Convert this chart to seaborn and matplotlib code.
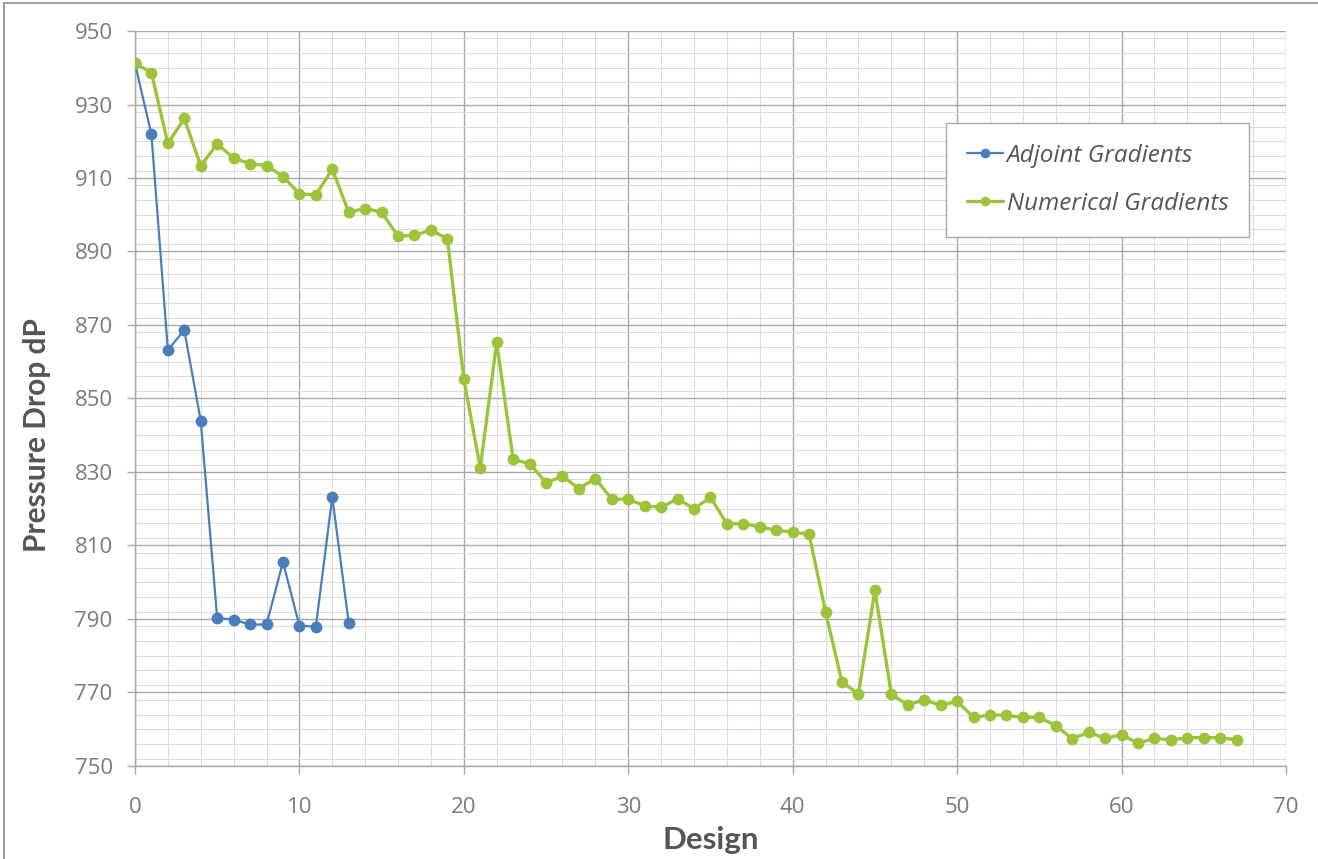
import numpy as np
import pandas as pd
import matplotlib
matplotlib.use("Agg")
import matplotlib.pyplot as plt
from matplotlib.ticker import MultipleLocator
from matplotlib.lines import Line2D
import seaborn as sns

# Pressure drop per design iteration
adjoint_dp = [941.2, 921.9, 863.2, 868.6, 843.9, 790.3, 789.8, 788.5, 788.5,
              805.5, 788.2, 787.9, 823.2, 788.9]
numerical_dp = [941.2, 938.7, 919.4, 926.2, 913.3, 919.3, 915.4, 913.9, 913.4,
                910.4, 905.7, 905.4, 912.4, 900.7, 901.7, 900.7, 894.2, 894.4,
                895.8, 893.5, 855.2, 831.1, 865.3, 833.4, 832.3, 827.1, 828.8,
                825.5, 828.2, 822.6, 822.6, 820.8, 820.4, 822.7, 820.0, 823.1,
                815.9, 815.9, 815.1, 814.1, 813.7, 813.0, 791.9, 772.8, 769.6,
                797.8, 769.5, 766.6, 768.0, 766.5, 767.6, 763.2, 763.9, 763.8,
                763.2, 763.2, 761.0, 757.4, 759.2, 757.5, 758.5, 756.2, 757.5,
                757.1, 757.7, 757.7, 757.7, 757.1]
series_names = ["Adjoint Gradients", "Numerical Gradients"]
series_colors = ["#4a7ebb", "#9cc43a"]
x_ticks = [0, 10, 20, 30, 40, 50, 60, 70]
y_ticks = [750, 770, 790, 810, 830, 850, 870, 890, 910, 930, 950]

df = pd.concat([
    pd.DataFrame({"Design": np.arange(len(adjoint_dp)), "dP": adjoint_dp,
                  "Method": series_names[0]}),
    pd.DataFrame({"Design": np.arange(len(numerical_dp)), "dP": numerical_dp,
                  "Method": series_names[1]}),
], ignore_index=True)

sns.set_style("white")
plt.rcParams["font.family"] = ["Open Sans", "DejaVu Sans"]

fig = plt.figure(figsize=(13.18, 8.59), dpi=100)
ax = fig.add_axes([0.1024, 0.1083, 0.8733, 0.8556])

line_widths = {series_names[0]: 1.6, series_names[1]: 2.4}
for name, color in zip(series_names, series_colors):
    sub = df[df["Method"] == name]
    sns.lineplot(data=sub, x="Design", y="dP", ax=ax, color=color,
                 linewidth=line_widths[name], marker="o", markersize=8.5,
                 markeredgewidth=0, sort=False, legend=False, zorder=3)

ax.set_xlim(0, 70)
ax.set_ylim(750, 950)
ax.set_xticks(x_ticks)
ax.set_yticks(y_ticks)
ax.xaxis.set_minor_locator(MultipleLocator(2))
ax.yaxis.set_minor_locator(MultipleLocator(4))

ax.grid(which="major", color="#a8a8a8", linewidth=1.0)
ax.grid(which="minor", color="#dcdcdc", linewidth=0.8)
ax.set_axisbelow(True)

for side in ["top", "right"]:
    ax.spines[side].set_visible(False)
for side in ["left", "bottom"]:
    ax.spines[side].set_color("#a8a8a8")
    ax.spines[side].set_linewidth(1.0)

ax.tick_params(axis="both", which="major", direction="out", length=6,
               width=1.0, color="#a8a8a8", labelsize=16, labelcolor="#7a7a7a",
               left=True, bottom=True)
ax.tick_params(axis="x", which="major", pad=16)
ax.tick_params(axis="y", which="major", pad=10)
ax.tick_params(axis="both", which="minor", length=0)

ax.set_xlabel("Design", family=["Lato", "DejaVu Sans"], fontweight="bold",
              fontsize=22.5, color="#555555", labelpad=6)
ax.set_ylabel("Pressure Drop dP", family=["Lato", "DejaVu Sans"],
              fontweight="bold", fontsize=21.5, color="#555555")
ax.yaxis.set_label_coords(-0.073, 0.45)

handles = [Line2D([0], [0], color=c, linewidth=lw, marker="o", markersize=7,
                  markeredgewidth=0)
           for c, lw in zip(series_colors, [1.6, 2.4])]
leg = ax.legend(handles, series_names, loc="upper left",
                bbox_to_anchor=(0.7046, 0.8748), borderaxespad=0,
                frameon=True, fancybox=False, edgecolor="#a8a8a8",
                framealpha=1.0, handlelength=1.5, handletextpad=0.15,
                borderpad=0.85, labelspacing=1.0,
                prop={"family": ["Open Sans", "DejaVu Sans"], "style": "italic",
                      "size": 17.5})
leg.get_frame().set_linewidth(1.0)
for t in leg.get_texts():
    t.set_color("#555555")

# thin frame along the figure's outer left and top edges
fig.add_artist(Line2D([0.003, 0.003], [0, 0.997], transform=fig.transFigure,
                      color="#8c8c8c", linewidth=1.2))
fig.add_artist(Line2D([0.003, 1.0], [0.997, 0.997], transform=fig.transFigure,
                      color="#8c8c8c", linewidth=1.2))

fig.savefig("out.png", dpi=100)
